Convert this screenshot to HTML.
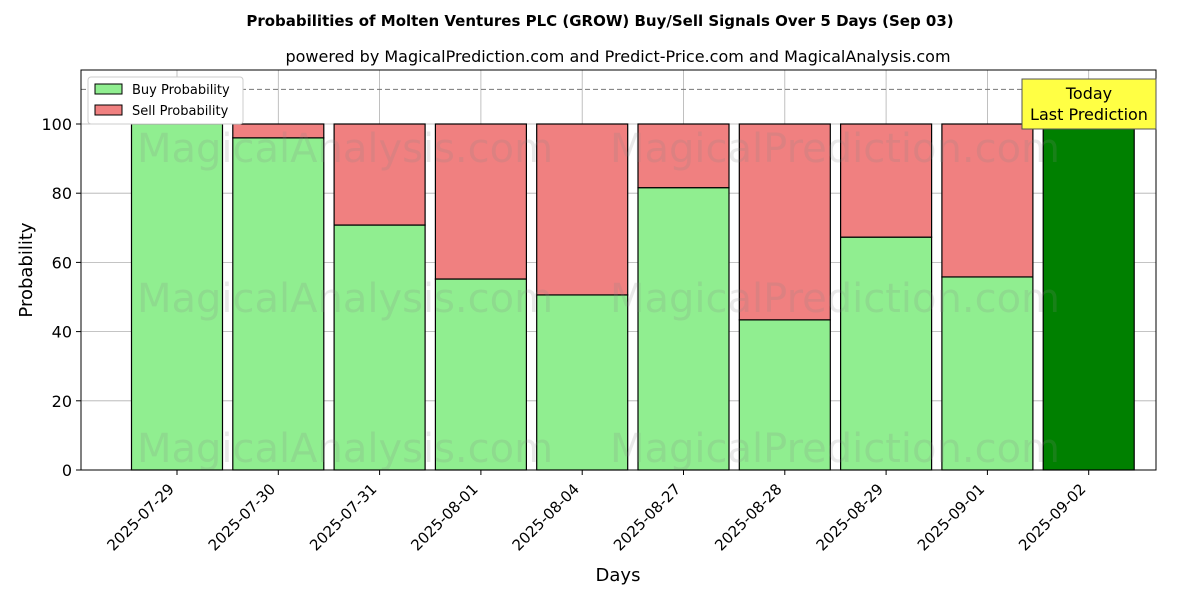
<!DOCTYPE html>
<html><head><meta charset="utf-8"><style>body{margin:0;background:#fff}svg{font-family:"DejaVu Sans","Liberation Sans",sans-serif}</style></head>
<body>
<svg id="c" width="1200" height="600">
<text x="600" y="26" text-anchor="middle" font-size="15" font-weight="bold">Probabilities of Molten Ventures PLC (GROW) Buy/Sell Signals Over 5 Days (Sep 03)</text>
<text x="618" y="62" text-anchor="middle" font-size="16">powered by MagicalPrediction.com and Predict-Price.com and MagicalAnalysis.com</text>
<g id="grid"></g>
<g id="bars"></g>
<g id="wm" font-size="40" fill="#888" opacity="0.18">
<text x="345" y="162" text-anchor="middle">MagicalAnalysis.com</text>
<text x="835" y="162" text-anchor="middle">MagicalPrediction.com</text>
<text x="345" y="312" text-anchor="middle">MagicalAnalysis.com</text>
<text x="835" y="312" text-anchor="middle">MagicalPrediction.com</text>
<text x="345" y="462" text-anchor="middle">MagicalAnalysis.com</text>
<text x="835" y="462" text-anchor="middle">MagicalPrediction.com</text>
</g>
<line x1="81" x2="1156" y1="89.4" y2="89.4" stroke="#777" stroke-dasharray="5,3"/>
<rect x="81" y="70" width="1075" height="400" fill="none" stroke="#000"/>
<g id="ticks"></g>
<text x="32" y="270" transform="rotate(-90 32 270)" text-anchor="middle" font-size="18">Probability</text>
<text x="618" y="581" text-anchor="middle" font-size="18">Days</text>
<g>
<rect x="88" y="77" width="155" height="47" fill="#fff" stroke="#ccc" rx="3"/>
<rect x="95" y="84" width="27" height="10" fill="#90ee90" stroke="#000"/>
<text x="132" y="94" font-size="13">Buy Probability</text>
<rect x="95" y="105" width="27" height="10" fill="#f08080" stroke="#000"/>
<text x="132" y="115" font-size="13">Sell Probability</text>
</g>
<g>
<rect x="1022" y="79" width="134" height="50" fill="#ffff44" stroke="#555"/>
<text x="1089" y="99" text-anchor="middle" font-size="16">Today</text>
<text x="1089" y="120" text-anchor="middle" font-size="16">Last Prediction</text>
</g>
</svg>
<script>
const categories=["2025-07-29","2025-07-30","2025-07-31","2025-08-01","2025-08-04","2025-08-27","2025-08-28","2025-08-29","2025-09-01","2025-09-02"];
const buyValues=[100,96,70.8,55.2,50.6,81.6,43.4,67.3,55.8,100];
const yTicks=[0,20,40,60,80,100];
const NS="http://www.w3.org/2000/svg";
const y=v=>470-v*3.46, x=i=>177+i*101.3, bw=91;
function mk(t,a,p){const e=document.createElementNS(NS,t);for(const k in a)e.setAttribute(k,a[k]);document.getElementById(p).appendChild(e);return e;}
yTicks.forEach(v=>{
 let g=mk('line',{x1:81,x2:1156,y1:y(v),y2:y(v),stroke:'#b0b0b0','stroke-width':0.8},'grid');
 
 
 mk('line',{x1:76,x2:81,y1:y(v),y2:y(v),stroke:'#000'},'ticks');
 let t=mk('text',{x:72,y:y(v)+6,'text-anchor':'end','font-size':16},'ticks');t.textContent=v;
 
 
});
categories.forEach((c,i)=>{
 let g=mk('line',{x1:x(i),x2:x(i),y1:70,y2:470,stroke:'#b0b0b0','stroke-width':0.8},'grid');
 
 
 const last=i===categories.length-1;
 let b=mk('rect',{x:x(i)-bw/2,y:y(buyValues[i]),width:bw,height:y(0)-y(buyValues[i]),fill:last?'#008000':'#90ee90',stroke:'#000','stroke-width':1.2},'bars');
 
 
 if(100-buyValues[i]>0){
  let s=mk('rect',{x:x(i)-bw/2,y:y(100),width:bw,height:y(buyValues[i])-y(100),fill:'#f08080',stroke:'#000','stroke-width':1.2},'bars');
  
  
 }
 mk('line',{x1:x(i),x2:x(i),y1:470,y2:475,stroke:'#000'},'ticks');
 const lx=x(i)-2, ly=490;
 let t=mk('text',{x:lx,y:ly,'text-anchor':'end','font-size':15,transform:`rotate(-45 ${lx} ${ly})`},'ticks');t.textContent=c;
 
 
});
</script>
</body></html>
